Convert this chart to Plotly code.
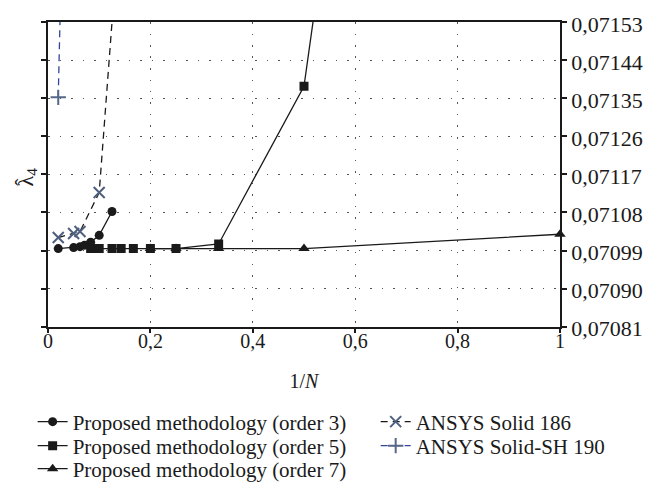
import plotly.graph_objects as go

# Convergence of the 4th normalised eigenvalue against 1/N
x_order3 = [0.02, 0.05, 0.0625, 0.0714, 0.0833, 0.1, 0.125]
y_order3 = [0.0709946, 0.0709969, 0.0709992, 0.0710027, 0.0710096, 0.0710258, 0.0710823]

x_order5 = [0.0833, 0.1, 0.125, 0.1429, 0.1667, 0.2, 0.25, 0.3333, 0.5, 1.0]
y_order5 = [0.0709946, 0.0709946, 0.0709946, 0.0709946, 0.0709946, 0.0709946,
            0.0709946, 0.0710055, 0.071378, 0.0757]

x_order7 = [0.2, 0.25, 0.3333, 0.5, 1.0]
y_order7 = [0.0709946, 0.0709946, 0.0709946, 0.0709946, 0.0710285]

x_solid186 = [0.02, 0.05, 0.0625, 0.1, 0.1667]
y_solid186 = [0.0710207, 0.0710304, 0.071035, 0.071127, 0.0722]

x_solidsh190 = [0.02, 0.05]
y_solidsh190 = [0.071352, 0.07293]

x_ticks = [0, 0.2, 0.4, 0.6, 0.8, 1]
x_ticktext = ["0", "0,2", "0,4", "0,6", "0,8", "1"]
y_ticks = [0.07081, 0.07090, 0.07099, 0.07108, 0.07117, 0.07126, 0.07135, 0.07144, 0.07153]
y_ticktext = ["0,07081", "0,07090", "0,07099", "0,07108", "0,07117",
              "0,07126", "0,07135", "0,07144", "0,07153"]

SERIF = "Liberation Serif"
INK = "#1a1a1a"

fig = go.Figure()

fig.add_trace(go.Scatter(
    x=x_order3, y=y_order3, mode="lines+markers",
    name="Proposed methodology (order 3)",
    line=dict(color=INK, width=1.3),
    marker=dict(symbol="circle", size=9, color=INK),
    legend="legend",
))
fig.add_trace(go.Scatter(
    x=x_order5, y=y_order5, mode="lines+markers",
    name="Proposed methodology (order 5)",
    line=dict(color=INK, width=1.3),
    marker=dict(symbol="square", size=9, color=INK),
    legend="legend2",
))
fig.add_trace(go.Scatter(
    x=x_order7, y=y_order7, mode="lines+markers",
    name="Proposed methodology (order 7)",
    line=dict(color=INK, width=1.3),
    marker=dict(symbol="triangle-up", size=10, color=INK),
    cliponaxis=False,
    legend="legend3",
))
fig.add_trace(go.Scatter(
    x=x_solid186, y=y_solid186, mode="lines+markers",
    name="ANSYS Solid 186",
    line=dict(color=INK, width=1.3, dash="7px,5px"),
    marker=dict(symbol="x-thin-open", size=11, color="#4f607f",
                line=dict(width=2, color="#4f607f")),
    legend="legend4",
))
fig.add_trace(go.Scatter(
    x=x_solidsh190, y=y_solidsh190, mode="lines+markers",
    name="ANSYS Solid-SH 190",
    line=dict(color="#34449a", width=1.3, dash="7px,5px"),
    marker=dict(symbol="cross-thin-open", size=11, color="#56678a",
                line=dict(width=2, color="#56678a")),
    legend="legend5",
))

grid_style = dict(showgrid=True, gridcolor="#555555", gridwidth=1.2, griddash="1.5px,10px")

fig.update_xaxes(
    range=[0, 1], tickvals=x_ticks, ticktext=x_ticktext,
    ticks="outside", ticklen=5, tickcolor=INK, tickwidth=1.5,
    ticklabelstandoff=-9,
    showline=True, linecolor=INK, linewidth=1.6, mirror=True,
    zeroline=False,
    tickfont=dict(family=SERIF, size=20, color=INK),
    title=dict(text="1/<i>N</i>", font=dict(family=SERIF, size=20, color=INK), standoff=23),
    **grid_style,
)
fig.update_yaxes(
    range=[0.07081, 0.07153], tickvals=y_ticks, ticktext=y_ticktext,
    side="right",
    ticks="outside", ticklen=5, tickcolor=INK, tickwidth=1.5,
    ticklabelshift=2,
    showline=True, linecolor=INK, linewidth=1.6, mirror="ticks",
    zeroline=False,
    tickfont=dict(family=SERIF, size=22, color=INK),
    **grid_style,
)

# Rotated axis label: lambda with subscript, plus its hat drawn just above it
fig.add_annotation(
    text="λ<sub>4</sub>", xref="paper", yref="paper",
    x=-0.041, y=0.49, xanchor="center", yanchor="middle",
    textangle=-90, showarrow=False,
    font=dict(family=SERIF, size=22, color=INK),
)
fig.add_annotation(
    text="ˆ", xref="paper", yref="paper",
    x=-0.05, y=0.476, xanchor="center", yanchor="middle",
    textangle=-90, showarrow=False,
    font=dict(family=SERIF, size=22, color=INK),
)

legend_font = dict(family=SERIF, size=21, color=INK)
col1_x, col2_x = -0.03, 0.64
rows_y = [0.1299, 0.0804, 0.033]
legend_common = dict(xanchor="left", yanchor="middle", yref="container",
                     font=legend_font, bgcolor="rgba(0,0,0,0)")
fig.update_layout(
    width=656, height=485,
    margin=dict(l=48, r=96, t=16, b=157),
    paper_bgcolor="white", plot_bgcolor="white",
    legend=dict(x=col1_x, y=rows_y[0], **legend_common),
    legend2=dict(x=col1_x, y=rows_y[1], **legend_common),
    legend3=dict(x=col1_x, y=rows_y[2], **legend_common),
    legend4=dict(x=col2_x, y=rows_y[0], **legend_common),
    legend5=dict(x=col2_x, y=rows_y[1], **legend_common),
    showlegend=True,
)

fig.write_html("out.html")
